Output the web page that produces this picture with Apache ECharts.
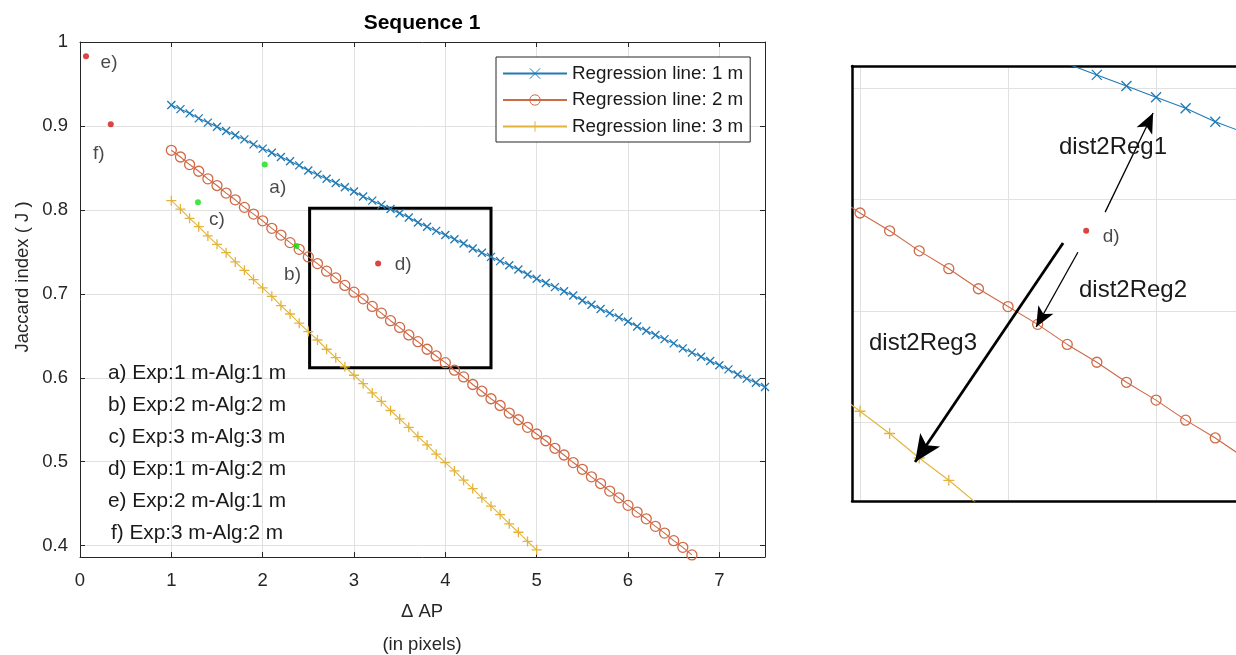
<!DOCTYPE html>
<html>
<head>
<meta charset="utf-8">
<title>Sequence 1</title>
<script src="https://cdn.jsdelivr.net/npm/echarts@6/dist/echarts.min.js"></script>
<style>
  html, body { margin: 0; padding: 0; background: #fff; }
  #chart { width: 1236px; height: 655px; }
</style>
</head>
<body>
<div id="chart"></div>
<script>
// sample positions of the regression lines (ΔAP, in pixels)
const stepX = [
  1.0, 1.1, 1.2, 1.3, 1.4, 1.5, 1.6, 1.7, 1.8, 1.9,
  2.0, 2.1, 2.2, 2.3, 2.4, 2.5, 2.6, 2.7, 2.8, 2.9,
  3.0, 3.1, 3.2, 3.3, 3.4, 3.5, 3.6, 3.7, 3.8, 3.9,
  4.0, 4.1, 4.2, 4.3, 4.4, 4.5, 4.6, 4.7, 4.8, 4.9,
  5.0, 5.1, 5.2, 5.3, 5.4, 5.5, 5.6, 5.7, 5.8, 5.9,
  6.0, 6.1, 6.2, 6.3, 6.4, 6.5, 6.6, 6.7, 6.8, 6.9,
  7.0, 7.1, 7.2, 7.3, 7.4, 7.5
];
// Jaccard index of each regression line at those positions
const reg1m = [
  0.925, 0.920, 0.915, 0.909, 0.904, 0.899, 0.894, 0.889, 0.884, 0.878,
  0.873, 0.868, 0.863, 0.858, 0.853, 0.847, 0.842, 0.837, 0.832, 0.827,
  0.822, 0.816, 0.811, 0.806, 0.801, 0.796, 0.791, 0.785, 0.780, 0.775,
  0.770, 0.765, 0.760, 0.754, 0.749, 0.744, 0.739, 0.734, 0.729, 0.723,
  0.718, 0.713, 0.708, 0.703, 0.698, 0.692, 0.687, 0.682, 0.677, 0.672,
  0.667, 0.661, 0.656, 0.651, 0.646, 0.641, 0.635, 0.630, 0.625, 0.620,
  0.615, 0.610, 0.604, 0.599, 0.594, 0.589
];
const reg2m = [
  0.871, 0.863, 0.854, 0.846, 0.837, 0.829, 0.820, 0.812, 0.803, 0.795,
  0.787, 0.778, 0.770, 0.761, 0.753, 0.744, 0.736, 0.727, 0.719, 0.710,
  0.702, 0.694, 0.685, 0.677, 0.668, 0.660, 0.651, 0.643, 0.634, 0.626,
  0.618, 0.609, 0.601, 0.592, 0.584, 0.575, 0.567, 0.558, 0.550, 0.541,
  0.533, 0.525, 0.516, 0.508, 0.499, 0.491, 0.482, 0.474, 0.465, 0.457,
  0.448, 0.440, 0.432, 0.423, 0.415, 0.406, 0.398, 0.389
];
const reg3m = [
  0.811, 0.801, 0.790, 0.780, 0.769, 0.759, 0.749, 0.738, 0.728, 0.717,
  0.707, 0.697, 0.686, 0.676, 0.665, 0.655, 0.645, 0.634, 0.624, 0.613,
  0.603, 0.593, 0.582, 0.572, 0.561, 0.551, 0.541, 0.530, 0.520, 0.509,
  0.499, 0.489, 0.478, 0.468, 0.457, 0.447, 0.437, 0.426, 0.416, 0.405,
  0.395
];
const seriesNames = ['Regression line: 1 m', 'Regression line: 2 m', 'Regression line: 3 m'];

// measured cases a) .. f)
const pointTags = ['a)', 'b)', 'c)', 'd)', 'e)', 'f)'];
const pointX = [2.023, 2.371, 1.292, 3.264, 0.066, 0.337];
const pointY = [0.854, 0.757, 0.809, 0.736, 0.983, 0.902];
const pointMatch = [true, true, true, false, false, false]; // Exp == Alg
const noteLines = [
  'a) Exp:1 m-Alg:1 m',
  'b) Exp:2 m-Alg:2 m',
  'c) Exp:3 m-Alg:3 m',
  'd) Exp:1 m-Alg:2 m',
  'e) Exp:2 m-Alg:1 m',
  'f) Exp:3 m-Alg:2 m'
];

// zoomed region (main plot rectangle) and inset ranges
const zoomBox = [[2.514, 0.802], [4.5, 0.612]];
const insetX = [2.473, 3.770];
const insetY = [0.6147, 0.8100];
const distNames = ['dist2Reg1', 'dist2Reg2', 'dist2Reg3'];
const distFrom = [[3.328, 0.7444], [3.236, 0.7264], [3.186, 0.7305]];
const distTo = [[3.490, 0.7889], [3.095, 0.6928], [2.686, 0.6322]];

const FONT = 'Liberation Sans, Arial, Helvetica, sans-serif';
const AXIS = '#262626';
const GRIDC = '#e1e1e1';
const colors = ['#1f7ab5', '#cf6a47', '#e3b43c'];
const symbols = ['path://M0,0L10,10M10,0L0,10', 'circle', 'path://M5,0L5,10M0,5L10,5'];
const mainSize = [8, 10, 10];
const insetSize = [10, 10, 11];
const regData = [reg1m, reg2m, reg3m];

const tagOffset = {
  'a)': [13, 23], 'b)': [-4, 29], 'c)': [19, 17],
  'd)': [25, 1], 'e)': [23, 6], 'f)': [-12, 29]
};

const chart = echarts.init(document.getElementById('chart'));

function regSeries(i, inset) {
  return {
    name: inset ? 'inset ' + i : seriesNames[i],
    type: 'line',
    xAxisIndex: inset ? 2 : 0,
    yAxisIndex: inset ? 2 : 0,
    data: regData[i].map((y, k) => [stepX[k], y]),
    symbol: symbols[i],
    symbolSize: inset ? insetSize[i] : mainSize[i],
    showSymbol: true,
    lineStyle: { color: colors[i], width: 1.1 },
    itemStyle: { color: 'rgba(0,0,0,0)', borderColor: colors[i], borderWidth: 1.3 },
    emphasis: { disabled: true },
    silent: true,
    z: 3
  };
}

function pointSeries(inset) {
  return {
    type: 'scatter',
    xAxisIndex: inset ? 2 : 0,
    yAxisIndex: inset ? 2 : 0,
    symbol: 'circle',
    symbolSize: 6,
    clip: true,
    silent: true,
    z: 5,
    data: pointTags.map((t, i) => ({
      value: [pointX[i], pointY[i]],
      itemStyle: { color: pointMatch[i] ? '#12e012' : '#d01515' },
      label: {
        show: !inset || t === 'd)',
        offset: inset ? [25, 6] : tagOffset[t]
      }
    })),
    label: {
      position: 'inside',
      align: 'center',
      verticalAlign: 'middle',
      formatter: (p) => pointTags[p.dataIndex],
      fontFamily: FONT,
      fontSize: 19,
      color: '#1a1a1a'
    }
  };
}

const tickStyle = { show: true, inside: true, length: 5, lineStyle: { color: AXIS, width: 1 } };
const lineAxis = { show: true, onZero: false, lineStyle: { color: AXIS, width: 1 } };
const insetLine = { show: true, onZero: false, lineStyle: { color: '#000', width: 2.5 } };

const options = {
  animation: false,
  grid: [
    { left: 80, top: 42, right: 471, bottom: 98 },
    { left: 852, top: 66, right: 0, bottom: 154 }
  ],
  xAxis: [
    {
      type: 'value', gridIndex: 0, position: 'bottom', min: 0, max: 7.5, interval: 1,
      axisLine: lineAxis, axisTick: tickStyle,
      axisLabel: { show: true, margin: 14, showMaxLabel: false, fontFamily: FONT, fontSize: 18.5, color: AXIS },
      splitLine: { show: true, lineStyle: { color: GRIDC, width: 1 } }
    },
    {
      type: 'value', gridIndex: 0, position: 'top', min: 0, max: 7.5, interval: 1,
      axisLine: lineAxis, axisTick: tickStyle, axisLabel: { show: false }, splitLine: { show: false }
    },
    {
      type: 'value', gridIndex: 1, position: 'bottom', min: insetX[0], max: insetX[1], splitNumber: 3,
      axisLine: insetLine, axisTick: { show: false }, axisLabel: { show: false },
      splitLine: { show: true, lineStyle: { color: GRIDC, width: 1 } }
    },
    {
      type: 'value', gridIndex: 1, position: 'top', min: insetX[0], max: insetX[1], splitNumber: 3,
      axisLine: insetLine, axisTick: { show: false }, axisLabel: { show: false }, splitLine: { show: false }
    }
  ],
  yAxis: [
    {
      type: 'value', gridIndex: 0, position: 'left', min: 0.3865, max: 1, splitNumber: 6,
      axisLine: lineAxis, axisTick: tickStyle,
      axisLabel: {
        show: true, margin: 12, showMinLabel: false, fontFamily: FONT, fontSize: 18.5, color: AXIS,
        formatter: (v) => (Math.abs(v * 10 - Math.round(v * 10)) < 1e-6 ? String(Math.round(v * 10) / 10) : '')
      },
      splitLine: { show: true, lineStyle: { color: GRIDC, width: 1 } }
    },
    {
      type: 'value', gridIndex: 0, position: 'right', min: 0.3865, max: 1, splitNumber: 6,
      axisLine: lineAxis, axisTick: tickStyle, axisLabel: { show: false }, splitLine: { show: false }
    },
    {
      type: 'value', gridIndex: 1, position: 'left', min: insetY[0], max: insetY[1], splitNumber: 4,
      axisLine: insetLine, axisTick: { show: false }, axisLabel: { show: false },
      splitLine: { show: true, lineStyle: { color: GRIDC, width: 1 } }
    }
  ],
  legend: {
    data: seriesNames,
    orient: 'vertical',
    left: 496,
    top: 57,
    itemWidth: 64,
    itemHeight: 13,
    itemGap: 7.5,
    padding: [7, 7, 6, 6],
    borderColor: AXIS,
    borderWidth: 1,
    borderRadius: 0,
    backgroundColor: '#fff',
    selectedMode: false,
    itemStyle: { borderWidth: 1 },
    textStyle: { fontFamily: FONT, fontSize: 18.8, color: '#1a1a1a' },
    z: 10
  },
  graphic: [
    {
      type: 'text', x: 422, y: 23, silent: true,
      style: { text: 'Sequence 1', fontFamily: FONT, fontSize: 21, fontWeight: 'bold', fill: '#000', align: 'center', verticalAlign: 'middle' }
    },
    {
      type: 'text', x: 23, y: 277, rotation: Math.PI / 2, silent: true,
      style: { text: 'Jaccard index ( J )', fontFamily: FONT, fontSize: 18.5, fill: AXIS, align: 'center', verticalAlign: 'middle' }
    },
    {
      type: 'text', x: 422, y: 628, silent: true,
      style: { text: '\u0394 AP\n(in pixels)', fontFamily: FONT, fontSize: 18.5, lineHeight: 33, fill: AXIS, align: 'center', verticalAlign: 'middle' }
    },
    {
      type: 'text', x: 197, y: 357, silent: true, z: 10,
      style: { text: noteLines.join('\n'), fontFamily: FONT, fontSize: 20.8, lineHeight: 32, fill: '#1a1a1a', align: 'center', verticalAlign: 'top' }
    },
    {
      type: 'text', x: 1113, y: 147, silent: true, z: 10,
      style: { text: distNames[0], fontFamily: FONT, fontSize: 24, fill: '#1a1a1a', align: 'center', verticalAlign: 'middle' }
    },
    {
      type: 'text', x: 1133, y: 290, silent: true, z: 10,
      style: { text: distNames[1], fontFamily: FONT, fontSize: 24, fill: '#1a1a1a', align: 'center', verticalAlign: 'middle' }
    },
    {
      type: 'text', x: 923, y: 343, silent: true, z: 10,
      style: { text: distNames[2], fontFamily: FONT, fontSize: 24, fill: '#1a1a1a', align: 'center', verticalAlign: 'middle' }
    }
  ],
  series: [
    regSeries(0, false),
    regSeries(1, false),
    regSeries(2, false),
    pointSeries(false),
    {
      // zoomed rectangle
      type: 'scatter', xAxisIndex: 0, yAxisIndex: 0, data: [], silent: true, z: 6,
      markArea: {
        silent: true,
        itemStyle: { color: 'rgba(0,0,0,0)', borderColor: '#000', borderWidth: 3 },
        data: [[{ coord: zoomBox[0] }, { coord: zoomBox[1] }]]
      }
    },
    regSeries(0, true),
    regSeries(1, true),
    regSeries(2, true),
    pointSeries(true),
    {
      // distance arrows in the inset
      type: 'scatter', xAxisIndex: 2, yAxisIndex: 2, data: [], silent: true, z: 7,
      markLine: {
        silent: true,
        symbol: ['none', 'arrow'],
        label: { show: false },
        emphasis: { disabled: true },
        data: distFrom.map((f, i) => {
          const thick = i === 2;
          const ls = { color: '#000', width: thick ? 2.8 : 1.3, type: 'solid' };
          return [
            { coord: f, symbol: 'none', lineStyle: ls },
            { coord: distTo[i], symbol: 'arrow', symbolSize: thick ? [18, 27] : [13, 20], lineStyle: ls }
          ];
        })
      }
    }
  ]
};

chart.setOption(options);
</script>
</body>
</html>
